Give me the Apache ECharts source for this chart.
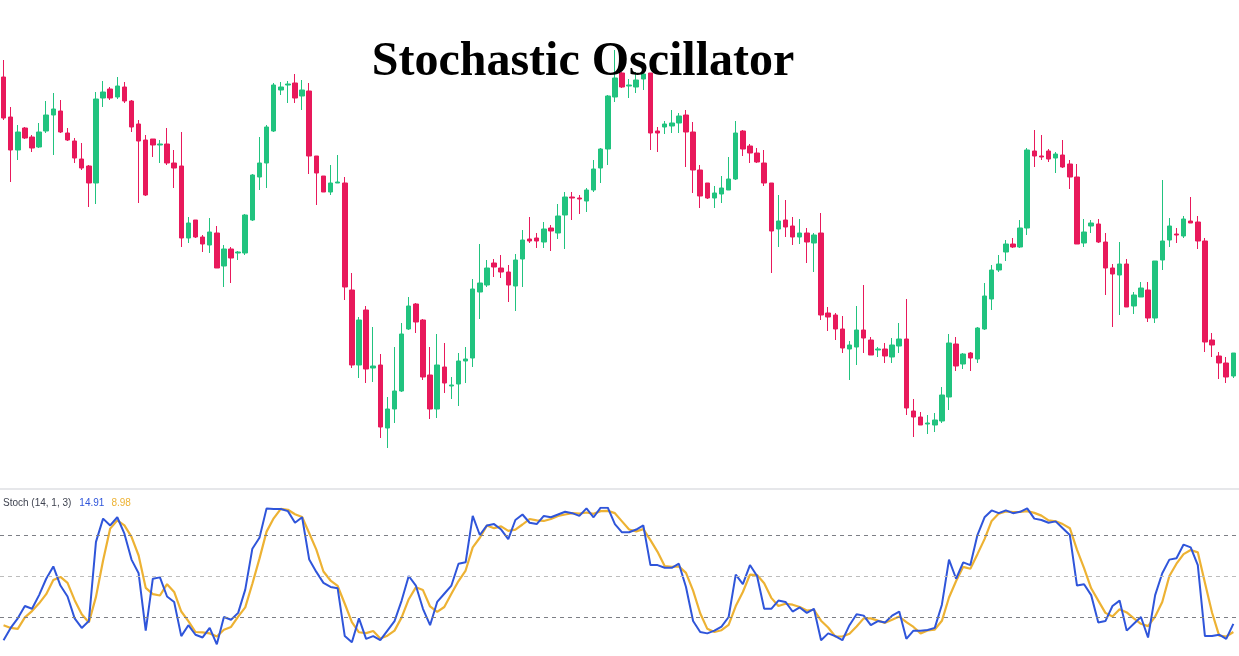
<!DOCTYPE html>
<html><head><meta charset="utf-8">
<script src="https://cdn.jsdelivr.net/npm/echarts@6/dist/echarts.min.js"></script>
<style>html,body{margin:0;padding:0;background:#fff}#c{width:1239px;height:656px}</style>
</head><body><div id="c"></div>
<script>
// Price values (arbitrary price units)
const openP = [523,483,450,472,463,453,469,485,489,467, 459,441,434,417,502,511,503,513,499,476,
 460,461,455,456,437,434,362,380,363,355, 367,334,351,347,347,380,423,437,469,510,
 515,517,504,509,444,424,408,417,417,310, 235,290,232,235,172,191,209,271,296,280,
 225,191,233,214,216,239,242,308,315,337, 332,328,314,341,361,362,358,372,367,385,
 403,402,399,410,432,451,503,527,514,513, 521,527,469,473,474,477,485,468,430,417,
 402,406,410,421,469,454,447,437,417,371, 380,374,363,367,357,367,287,285,271,251,
 253,270,260,250,251,243,254,261,189,183, 176,175,179,203,256,236,247,241,271,301,
 330,348,356,353,372,449,444,449,442,445, 436,423,357,374,376,358,332,325,336,294,
 303,310,282,340,360,366,364,379,378,359, 260,244,237,224];
const closeP = [482,450,468,462,452,468,485,491,468,460, 442,432,417,501,508,502,514,499,473,459,
 405,455,456,437,432,362,377,363,356,368, 332,351,342,348,385,425,437,473,515,513,
 516,502,510,444,427,408,417,418,313,235, 280,231,234,173,191,209,266,294,278,223,
 191,235,217,215,239,241,311,317,332,333, 328,315,340,360,359,359,371,369,384,403,
 402,401,410,431,451,504,522,513,515,520, 526,467,467,476,477,484,468,430,404,402,
 407,412,421,467,451,447,438,417,369,379, 373,363,367,358,365,285,283,271,252,255,
 270,262,245,251,244,255,261,192,183,175, 177,180,205,257,234,246,242,272,304,330,
 336,356,353,372,450,444,443,441,446,433, 423,356,368,377,358,332,326,336,293,305,
 312,282,339,359,374,365,381,377,359,258, 255,237,223,247];
const lowP = [480,418,440,461,448,452,467,445,467,459, 437,430,393,396,493,500,501,497,468,397,
 404,443,437,435,412,353,357,362,348,347, 332,313,317,340,345,379,410,412,468,505,
 497,497,490,426,395,408,405,417,300,232, 222,217,218,162,152,177,208,270,267,220,
 181,182,207,201,194,217,233,281,313,323, 322,298,289,313,357,352,352,349,361,351,
 380,386,388,408,417,435,498,512,502,507, 510,450,448,466,467,467,433,407,392,401,
 392,397,410,420,444,437,437,414,327,353, 363,355,356,337,328,280,269,260,247,220,
 235,247,245,243,237,237,247,185,163,175, 166,168,177,190,229,231,229,237,270,290,
 328,339,352,352,365,433,440,438,427,432, 411,356,353,367,357,305,273,285,293,286,
 303,278,277,330,353,357,362,377,351,248, 243,221,217,222];
const highP = [540,493,475,473,465,477,499,507,500,472, 462,457,435,508,519,513,523,518,500,480,
 465,461,460,472,450,468,383,380,365,382, 374,355,353,349,386,426,463,475,517,518,
 519,526,520,517,444,424,435,445,423,327, 283,294,273,246,203,253,277,303,297,281,
 253,266,257,223,247,253,321,356,340,341, 345,335,346,370,383,367,378,375,396,408,
 408,405,412,440,452,505,550,528,521,528, 528,527,473,479,490,487,490,478,435,417,
 414,424,443,479,470,456,452,450,417,405, 400,383,381,372,367,387,293,287,284,259,
 294,315,263,253,257,262,277,301,201,188, 185,187,213,266,263,247,248,273,317,335,
 345,360,362,380,452,470,465,451,448,460, 440,436,381,380,381,367,336,358,341,308,
 318,318,339,420,382,372,384,403,384,362, 267,248,243,247];
// Stochastic %K (blue) and %D (orange)
const kLine = [3,12,19,28,26,36,48,57,43,35, 19,12,17,75,92,87,93,81,62,52,
 10,48,49,35,31,6,14,7,5,12, 0,20,18,23,40,70,78,99.5,99,99,
 97.5,89,93,62,53,45,42,41,6,1.5, 19,4,6,3,10,17,32,50,43,26,
 14,31,37,43,59,60,94,80,87,88, 84,77,91,95,89,88,94,93,95,97,
 96,94,99.5,93,100,100,88,82,82,84, 87,58,58,56,56,59,42,17,9,8,
 10,13,20,51,44,58,50,26,26,32, 31,24,27,23,26,3,8,6,3,14,
 22,21,14,17,16,21,24,4,10,10, 10.5,12,29,62,48,60,58,80,93,98,
 96,98,96,97,99.5,92,91,89,90,85, 80,43,44,36,16,17,28,32,10,15,
 20,5,36,52,62,63,73,71,58,6, 6,7,4,14.91];
const dLine = [14,12,11.3,19.7,24.3,30,36.7,47,49.3,45, 32.3,22,16,34.7,61.3,84.7,90.7,87,78.7,65,
 41.3,36.7,35.7,44,38.3,24,17,9,8.7,8, 5.7,10.7,12.7,20.3,27,44.3,62.7,82.5,92.2,99.2,
 98.5,95.2,93.2,81.3,69.3,53.3,46.7,42.7,29.7,16.2, 8.8,8.2,9.7,4.3,6.3,10,19.7,33,41.7,39.7,
 27.7,23.7,27.3,37,46.3,54,71,78,87,85, 86.3,83,84,87.7,91.7,90.7,90.3,91.7,94,95,
 96,95.7,96.5,95.5,97.5,97.7,96,90,84,82.7, 84.3,76.3,67.7,57.3,56.7,57,52.3,39.3,22.7,11.3,
 9,10.3,14.3,28,38.3,51,50.7,44.7,34,28, 29.7,29,27.3,24.7,25.3,17.3,12.3,5.7,5.7,7.7,
 13,19,19,17.3,15.7,18,20.3,16.3,12.7,8, 10.2,10.8,17.2,34.3,46.3,56.7,55.3,66,77,90.3,
 95.7,97.3,96.7,97,97.5,96.2,94.2,90.7,90,88, 85,69.3,55.7,41,32,23,20.3,25.7,23.3,19,
 15,13.3,20.3,31,50,59,66,69,67.3,45, 23.3,6.3,5.7,8.98];
const stochLevels = [80, 50, 20];
const categories = openP.map((_, i) => String(i + 1));

const UP = '#21C37F', DOWN = '#E8195B', BLUE = '#2F55DA', ORANGE = '#EDB233';
const chart = echarts.init(document.getElementById('c'), null, {renderer: 'canvas'});
const candles = openP.map((o, i) => [o, closeP[i], lowP[i], highP[i]]);
chart.setOption({
  animation: false,
  backgroundColor: '#ffffff',
  title: {
    text: 'Stochastic Oscillator', left: 578, top: 34, textAlign: 'center',
    textStyle: {fontFamily: 'Liberation Serif', fontWeight: 'bold', fontSize: 48, color: '#000'}
  },
  graphic: [
    {type: 'rect', shape: {x: 0, y: 488, width: 1239, height: 2}, style: {fill: '#e6e7ea'}, silent: true},
    {type: 'text', left: 3, top: 498, style: {
      text: '{a|Stoch (14, 1, 3)}{b|' + kLine[kLine.length-1].toFixed(2) + '}{c|' + dLine[dLine.length-1].toFixed(2) + '}',
      rich: {
        a: {fontFamily: 'Arial', fontSize: 10, fill: '#3f4350'},
        b: {fontFamily: 'Arial', fontSize: 10, fill: BLUE, padding: [0, 0, 0, 8]},
        c: {fontFamily: 'Arial', fontSize: 10, fill: ORANGE, padding: [0, 0, 0, 7]}
      }
    }}
  ],
  grid: [
    {left: -2.5, right: 2.1, top: 0, height: 480},
    {left: -2.5, right: 2.1, top: 507.7, height: 136.6}
  ],
  xAxis: [
    {type: 'category', data: categories, gridIndex: 0, show: false, boundaryGap: true},
    {type: 'category', data: categories, gridIndex: 1, show: false, boundaryGap: true}
  ],
  yAxis: [
    {type: 'value', gridIndex: 0, min: 120, max: 600, show: false, splitLine: {show: false}},
    {type: 'value', gridIndex: 1, min: 0, max: 100, show: false, splitLine: {show: false}}
  ],
  series: [
    {type: 'candlestick', xAxisIndex: 0, yAxisIndex: 0, data: candles, barWidth: 5,
     itemStyle: {color: UP, color0: DOWN, borderColor: UP, borderColor0: DOWN, borderWidth: 1}},
    {type: 'line', xAxisIndex: 1, yAxisIndex: 1, data: kLine, symbol: 'none', z: 3,
     lineStyle: {color: BLUE, width: 2}, itemStyle: {color: BLUE},
     markLine: {silent: true, symbol: 'none', label: {show: false},
       data: stochLevels.map(v => ({yAxis: v, lineStyle: {color: v === 50 ? '#bdbdbd' : '#7d7f86', type: [4, 4], width: 1}}))}},
    {type: 'line', xAxisIndex: 1, yAxisIndex: 1, data: dLine, symbol: 'none', z: 2,
     lineStyle: {color: ORANGE, width: 2.2}, itemStyle: {color: ORANGE}}
  ]
});
</script></body></html>
